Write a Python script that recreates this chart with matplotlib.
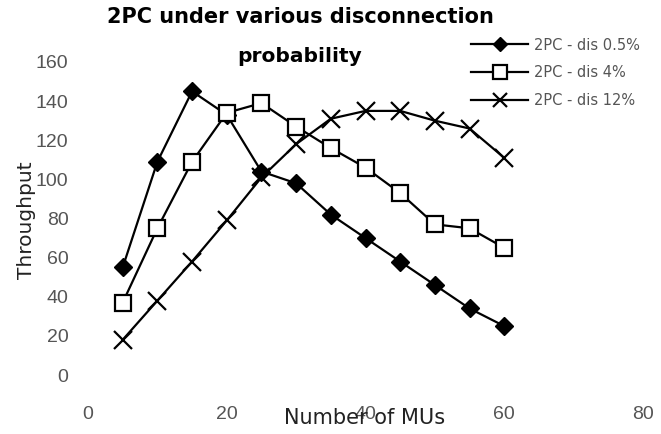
import numpy as np
import matplotlib.pyplot as plt

plt.rcParams['font.family'] = ['Liberation Sans', 'DejaVu Sans']

# Number of MUs and throughput per disconnection probability
mus = [5, 10, 15, 20, 25, 30, 35, 40, 45, 50, 55, 60]
dis_05 = [55, 109, 145, 133, 104, 98, 82, 70, 58, 46, 34, 25]
dis_4 = [37, 75, 109, 134, 139, 127, 116, 106, 93, 77, 75, 65]
dis_12 = [18, 38, 58, 79, 101, 118, 131, 135, 135, 130, 126, 111]

W, H = 661, 434
fig = plt.figure(figsize=(W / 100, H / 100), dpi=100)
ax = fig.add_axes([88 / W, 1 - 375 / H, (643 - 88) / W, (375 - 62) / H])

ax.plot(mus, dis_05, color='k', lw=1.6, marker='D', ms=9, mfc='k', label='2PC - dis 0.5%')
ax.plot(mus, dis_4, color='k', lw=1.6, marker='s', ms=12, mfc='white', mew=1.6, label='2PC - dis 4%')
ax.plot(mus, dis_12, color='k', lw=1.6, marker='x', ms=13, mew=1.6, label='2PC - dis 12%')

ax.set_xlim(0, 80)
ax.set_ylim(0, 160)
ax.set_xticks([0, 20, 40, 60, 80])
ax.set_yticks(range(0, 161, 20))
for s in ax.spines.values():
    s.set_visible(False)
ax.tick_params(length=0, labelsize=14, colors='#555555')
ax.tick_params(axis='y', pad=14)
ax.tick_params(axis='x', pad=22)

# axis titles (they overlap tick labels in the original too)
fig.text(365 / W, 1 - 418 / H, 'Number of MUs', ha='center', va='center',
         fontsize=15, color='#222222', family='DejaVu Sans')
fig.text(27 / W, 1 - 220 / H, 'Throughput', ha='center', va='center', rotation=90,
         fontsize=14.5, color='#222222', family='DejaVu Sans')

fig.text(300 / W, 1 - 17 / H, '2PC under various disconnection', ha='center', va='center',
         fontsize=15, fontweight='bold', family='DejaVu Sans')
fig.text(300 / W, 1 - 57 / H, 'probability', ha='center', va='center',
         fontsize=14.5, fontweight='bold', family='DejaVu Sans')

leg = ax.legend(loc='upper left', bbox_to_anchor=((458 - 88) / (643 - 88), 1.12),
                frameon=False, prop={'family': 'DejaVu Sans', 'size': 10.5},
                labelcolor='#555555', handlelength=3.9, handletextpad=0.4,
                labelspacing=0.88, markerscale=0.8)

fig.savefig('out.png', dpi=100)
